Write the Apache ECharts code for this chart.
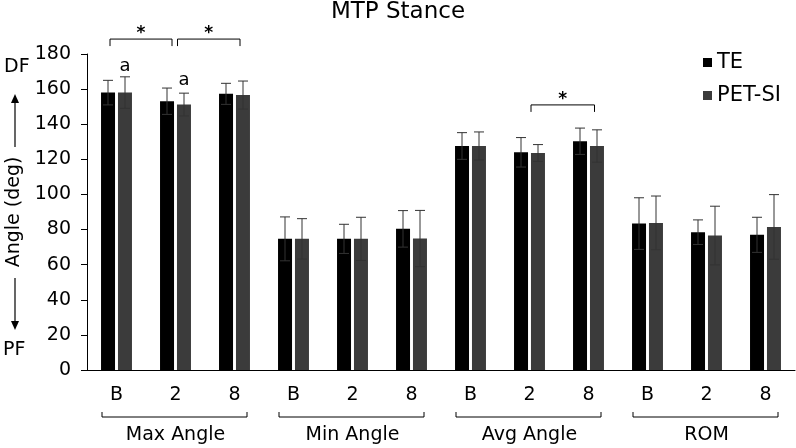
<!DOCTYPE html>
<html>
<head>
<meta charset="utf-8">
<script src="https://cdn.jsdelivr.net/npm/echarts@6/dist/echarts.min.js"></script>
<style>html,body{margin:0;padding:0;background:#fff}#c{width:796px;height:448px}</style>
</head>
<body>
<div id="c"></div>
<script>
// ---- data ----
const categories = ['B','2','8','B','2','8','B','2','8','B','2','8'];
const groups = ['Max Angle','Min Angle','Avg Angle','ROM'];
const teMean  = [158, 153.1, 157.3, 74.7, 74.7, 80.4, 127.6, 124, 130.3, 83.4, 78.5, 77];
const teSD    = [7, 7.5, 6, 12.5, 8.3, 10.4, 7.6, 8.4, 7.5, 14.7, 7, 10];
const petMean = [158, 151.2, 156.6, 74.7, 74.7, 74.9, 127.6, 123.6, 127.6, 83.8, 76.6, 81.5];
const petSD   = [9, 6.5, 8, 11.5, 12.3, 16, 8, 4.8, 9.2, 15.3, 16.7, 18.4];
const sigPairs  = [[0, 1], [1, 2], [7, 8]];
const sigLevels = [188.5, 188.5, 151];
const sigMarks  = ['*', '*', '*'];
const letterCats   = [0, 1];
const letterLevels = [172.7, 164.8];
const letterTexts  = ['a', 'a'];
const yMin = 0, yMax = 180, yStep = 20;

// ---- styles ----
const FONT = 'DejaVu Sans';
const TE_COLOR = '#000000';
const PET_COLOR = '#3b3b3b';
const ERR_COLOR = '#333333';
const sigOffsets = [[-6.5, -3.5], [2, 5.5], [1.5, 6]];

const chart = echarts.init(document.getElementById('c'), null, {renderer: 'canvas'});

function errRender(offset) {
  return function (params, api) {
    const lo = api.coord([api.value(0), api.value(1)]);
    const hi = api.coord([api.value(0), api.value(2)]);
    const x = lo[0] + offset;
    const st = {stroke: ERR_COLOR, lineWidth: 1};
    return {type: 'group', children: [
      {type: 'line', shape: {x1: x, y1: lo[1], x2: x, y2: hi[1]}, style: st},
      {type: 'line', shape: {x1: x - 5, y1: hi[1], x2: x + 5, y2: hi[1]}, style: st},
      {type: 'line', shape: {x1: x - 5, y1: lo[1], x2: x + 5, y2: lo[1]}, style: st}
    ]};
  };
}

const option = {
  animation: false,
  backgroundColor: '#fff',
  textStyle: {fontFamily: FONT},
  title: {
    text: 'MTP Stance', left: 'center', top: 1, padding: 0,
    textStyle: {fontFamily: FONT, fontSize: 23, fontWeight: 'normal', color: '#000'}
  },
  legend: {
    data: ['TE', 'PET-SI'], orient: 'vertical', left: 698, top: 46,
    icon: 'rect', itemWidth: 9, itemHeight: 9, itemGap: 10,
    textStyle: {fontFamily: FONT, fontSize: 21, color: '#000', lineHeight: 23}
  },
  grid: {left: 87, right: 1, top: 54, bottom: 78, containLabel: false, outerBoundsMode: 'none'},
  xAxis: [{
    type: 'category', data: categories, position: 'bottom',
    axisLine: {lineStyle: {color: '#000', width: 1}},
    axisTick: {alignWithLabel: true, length: 5, inside: false, lineStyle: {color: '#000'}},
    axisLabel: {fontFamily: FONT, fontSize: 19, color: '#000', margin: 16}
  }, {
    type: 'category', data: groups, position: 'bottom', offset: 50,
    axisLine: {show: false}, axisTick: {show: false},
    axisLabel: {fontFamily: FONT, fontSize: 19, color: '#000', margin: 6}
  }],
  yAxis: {
    type: 'value', min: yMin, max: yMax, interval: yStep,
    name: 'Angle (deg)', nameLocation: 'middle', nameRotate: 90, nameGap: 61,
    nameTextStyle: {fontFamily: FONT, fontSize: 19, color: '#000'},
    axisLine: {show: true, lineStyle: {color: '#000', width: 1}},
    axisTick: {show: true, length: 6, lineStyle: {color: '#000'}},
    splitLine: {show: false},
    axisLabel: {fontFamily: FONT, fontSize: 19, color: '#000', margin: 16}
  },
  series: [
    {name: 'TE', type: 'bar', data: teMean, barWidth: 14, barGap: '21%',
     itemStyle: {color: TE_COLOR}},
    {name: 'PET-SI', type: 'bar', data: petMean, barWidth: 14, barGap: '21%',
     itemStyle: {color: PET_COLOR}},
    {name: 'teErr', type: 'custom', z: 5, clip: false,
     data: teMean.map((m, i) => [i, m - teSD[i], m + teSD[i]]),
     renderItem: errRender(-8.5)},
    {name: 'petErr', type: 'custom', z: 5, clip: false,
     data: petMean.map((m, i) => [i, m - petSD[i], m + petSD[i]]),
     renderItem: errRender(8.5)},
    {name: 'sig', type: 'custom', z: 6, clip: false,
     data: sigPairs.map((p, i) => [p[0], p[1], sigLevels[i]]),
     renderItem: function (params, api) {
       const i = params.dataIndex;
       const a = api.coord([api.value(0), api.value(2)]);
       const b = api.coord([api.value(1), api.value(2)]);
       const x1 = a[0] + sigOffsets[i][0], x2 = b[0] + sigOffsets[i][1], y = a[1];
       return {type: 'group', children: [
         {type: 'polyline', shape: {points: [[x1, y + 7], [x1, y], [x2, y], [x2, y + 7]]},
          style: {stroke: '#000', lineWidth: 1, fill: null}},
         {type: 'text', x: (x1 + x2) / 2, y: y + 3,
          style: {text: sigMarks[i], fontFamily: FONT, fontSize: 17, fontWeight: 'bold',
                  fill: '#000', align: 'center', verticalAlign: 'bottom'}}
       ]};
     }},
    {name: 'letters', type: 'custom', z: 6, clip: false,
     data: letterCats.map((c, i) => [c, letterLevels[i]]),
     renderItem: function (params, api) {
       const p = api.coord([api.value(0), api.value(1)]);
       return {type: 'text', x: p[0] + 8.5, y: p[1],
         style: {text: letterTexts[params.dataIndex], fontFamily: FONT, fontSize: 18,
                 fill: '#000', align: 'center', verticalAlign: 'middle'}};
     }},
    {name: 'groupBrackets', type: 'custom', z: 6, clip: false,
     data: groups.map((g, i) => [i * 3, i * 3 + 2]),
     renderItem: function (params, api) {
       const a = api.coord([api.value(0), 0]);
       const b = api.coord([api.value(1), 0]);
       const x1 = a[0] - 14.5, x2 = b[0] + 12.5, y = a[1] + 47;
       return {type: 'polyline', shape: {points: [[x1, y - 5], [x1, y], [x2, y], [x2, y - 5]]},
         style: {stroke: '#000', lineWidth: 1, fill: null}};
     }}
  ],
  graphic: [
    {type: 'text', left: 4, top: 58, style: {text: 'DF', fontFamily: FONT, fontSize: 19, fill: '#000'}},
    {type: 'text', left: 3, top: 341, style: {text: 'PF', fontFamily: FONT, fontSize: 19, fill: '#000'}},
    {type: 'line', shape: {x1: 15, y1: 147, x2: 15, y2: 101}, style: {stroke: '#000', lineWidth: 1.2}},
    {type: 'polygon', shape: {points: [[15, 94], [11, 103], [19, 103]]}, style: {fill: '#000'}},
    {type: 'line', shape: {x1: 15, y1: 278, x2: 15, y2: 322}, style: {stroke: '#000', lineWidth: 1.2}},
    {type: 'polygon', shape: {points: [[15, 330], [11, 321], [19, 321]]}, style: {fill: '#000'}}
  ]
};
chart.setOption(option);
</script>
</body>
</html>
